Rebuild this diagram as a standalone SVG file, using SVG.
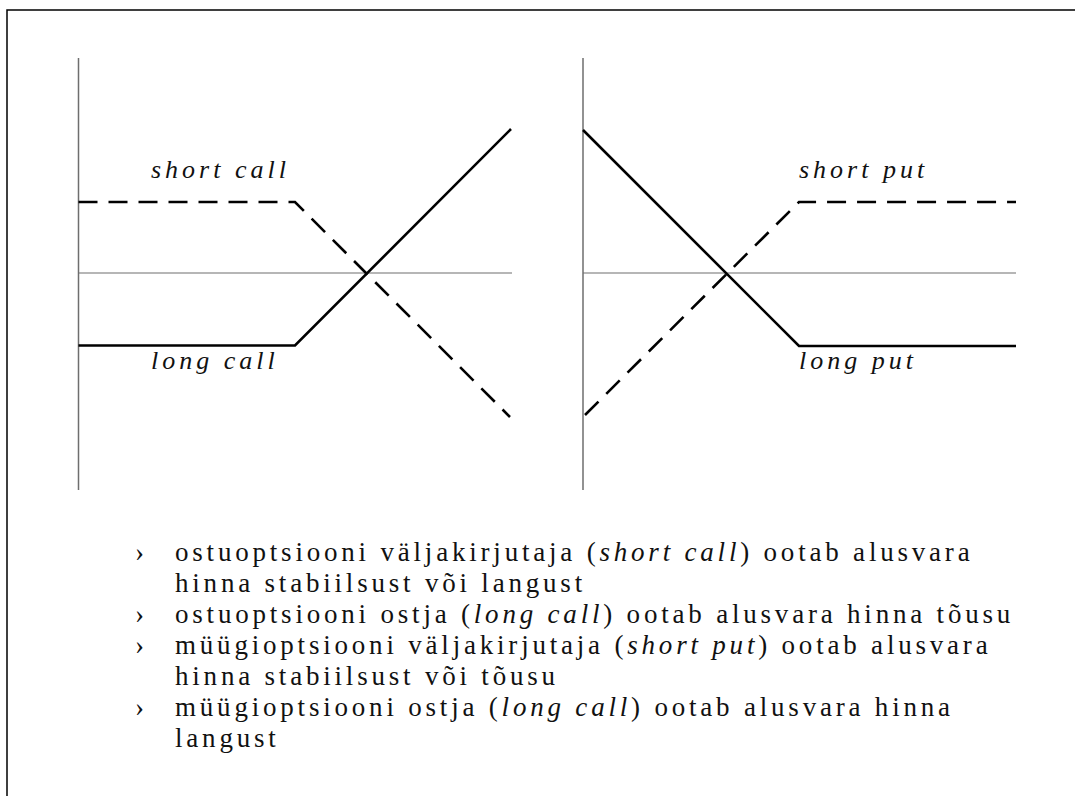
<svg xmlns="http://www.w3.org/2000/svg" width="1075" height="796" viewBox="0 0 1075 796">
<style>
.frame{stroke:#000;stroke-width:1.5;fill:none}
.axis{stroke:#6e6e6e;stroke-width:1.5;fill:none}
.zero{stroke:#6e6e6e;stroke-width:1.2;fill:none}
.curve{stroke:#000;stroke-width:2.6;fill:none;stroke-linejoin:miter}
.dash{stroke-dasharray:19 11}
.lbl{font-family:"Liberation Serif",serif;font-style:italic;font-size:26px;letter-spacing:4px;fill:#111}
.txt{font-family:"Liberation Serif",serif;font-size:27px;letter-spacing:3.8px;fill:#111}
.it{font-style:italic}
</style>
<rect width="1075" height="796" fill="#fff"/>
<g id="frame">
<path class="frame" d="M7 796 V10 H1075"/>
</g>
<g id="axes">
<path class="axis" d="M78.5 58 V490"/>
<path class="zero" d="M78.5 273 H512"/>
<path class="axis" d="M583 58 V490"/>
<path class="zero" d="M583 273 H1016"/>
</g>
<g id="connectors">
<path id="shortcall" class="curve dash" d="M78.5 202 H295 L510 417"/>
<path id="longcall" class="curve" d="M78.5 345.5 H295 L511 129"/>
<path id="longput" class="curve" d="M583 130 L799 346 H1016"/>
<path id="shortput" class="curve dash" d="M585 415 L799 202 H1016"/>
</g>
<g id="labels">
<text class="lbl" x="151" y="178">short call</text>
<text class="lbl" x="151" y="369">long call</text>
<text class="lbl" x="799" y="178">short put</text>
<text class="lbl" x="799" y="369">long put</text>
</g>
<g id="bullets">
<text class="txt" x="135" y="561">›</text>
<text class="txt" x="135" y="623">›</text>
<text class="txt" x="135" y="654">›</text>
<text class="txt" x="135" y="716">›</text>
<text class="txt" x="175" y="561">ostuoptsiooni väljakirjutaja (<tspan class="it">short call</tspan>) ootab alusvara</text>
<text class="txt" x="175" y="592">hinna stabiilsust või langust</text>
<text class="txt" x="175" y="623">ostuoptsiooni ostja (<tspan class="it">long call</tspan>) ootab alusvara hinna tõusu</text>
<text class="txt" x="175" y="654">müügioptsiooni väljakirjutaja (<tspan class="it">short put</tspan>) ootab alusvara</text>
<text class="txt" x="175" y="685">hinna stabiilsust või tõusu</text>
<text class="txt" x="175" y="716">müügioptsiooni ostja (<tspan class="it">long call</tspan>) ootab alusvara hinna</text>
<text class="txt" x="175" y="747">langust</text>
</g>
</svg>
